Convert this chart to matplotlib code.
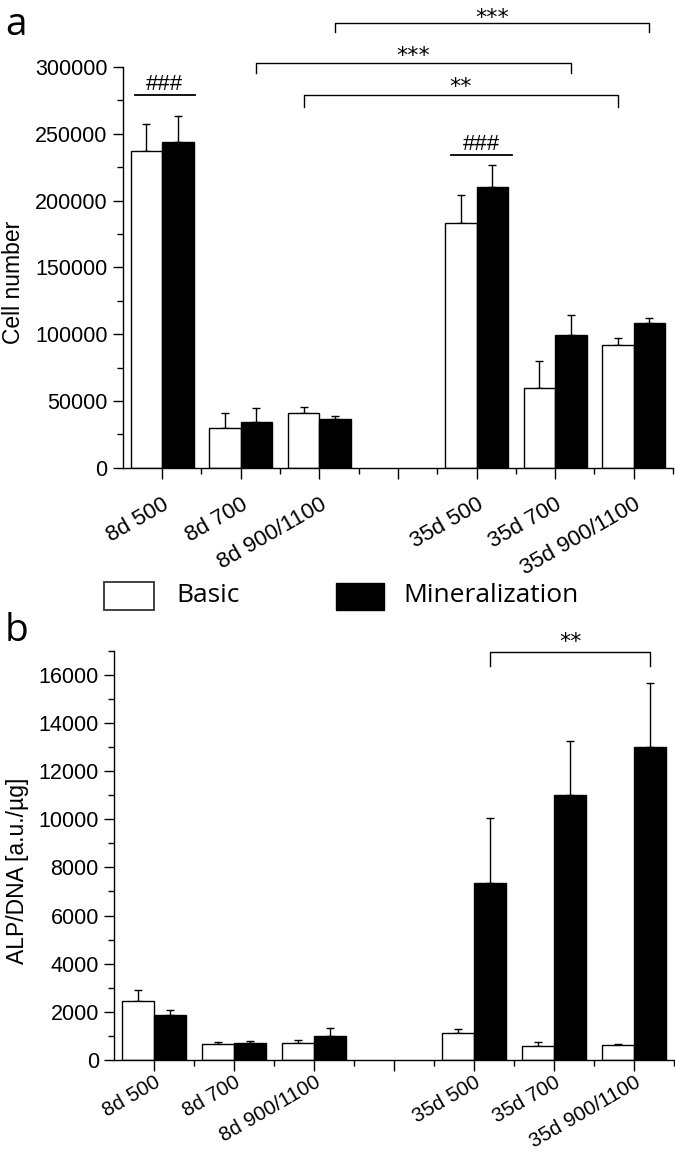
import matplotlib.pyplot as plt
import numpy as np
from matplotlib.patches import Rectangle

plt.rcParams['font.family'] = ['Liberation Sans', 'DejaVu Sans']

# categories (empty slot separates the 8d and 35d groups)
categories = ['8d 500', '8d 700', '8d 900/1100', '', '35d 500', '35d 700', '35d 900/1100']

# panel a: cell number
cell_basic = [237000, 30000, 41300, np.nan, 183000, 59800, 92000]
cell_basic_err = [20000, 11000, 4000, 0, 21000, 20000, 5500]
cell_mineral = [244000, 34000, 36500, np.nan, 210000, 99500, 108000]
cell_mineral_err = [19000, 11000, 2300, 0, 17000, 15000, 3800]

# panel b: ALP/DNA
alp_basic = [2450, 650, 700, np.nan, 1120, 580, 620]
alp_basic_err = [450, 100, 110, 0, 180, 150, 40]
alp_mineral = [1860, 720, 990, np.nan, 7350, 11000, 13000]
alp_mineral_err = [195, 80, 345, 0, 2700, 2270, 2650]

x = np.arange(len(categories))
w = 0.4

fig = plt.figure(figsize=(6.75, 11.55), dpi=100)
ax_a = fig.add_axes([0.182, 0.595, 0.815, 0.347])
ax_b = fig.add_axes([0.169, 0.0823, 0.83, 0.3543])


def draw_panel(ax, basic, basic_err, mineral, mineral_err, ylim, major, minor, pad, xsize):
    ax.bar(x - w / 2, basic, w, color='white', edgecolor='black', linewidth=1.0, zorder=2)
    ax.bar(x + w / 2, mineral, w, color='black', edgecolor='black', linewidth=1.0, zorder=2)
    zeros = np.zeros(len(x))
    ax.errorbar(x - w / 2, basic, yerr=[zeros, basic_err], fmt='none', ecolor='black',
                elinewidth=1.0, capsize=3.2, capthick=1.0, zorder=1)
    ax.errorbar(x + w / 2, mineral, yerr=[zeros, mineral_err], fmt='none', ecolor='black',
                elinewidth=1.0, capsize=3.2, capthick=1.0, zorder=1)
    ax.set_xlim(-0.5, 6.5)
    ax.set_ylim(*ylim)
    ax.set_xticks(x)
    ax.set_xticks(x + 0.5, minor=True)
    ax.set_xticklabels(categories, rotation=30, ha='right', rotation_mode='anchor', fontsize=xsize)
    ax.set_yticks(np.arange(0, ylim[1] + 1, major))
    ax.set_yticks(np.arange(0, ylim[1] + 1, minor), minor=True)
    ax.tick_params(axis='y', which='major', length=7, width=1, labelsize=15.5, pad=4)
    ax.tick_params(axis='y', which='minor', length=4, width=1)
    ax.tick_params(axis='x', which='major', length=8, width=1, pad=pad)
    ax.tick_params(axis='x', which='minor', length=4, width=1)
    for s in ['top', 'right']:
        ax.spines[s].set_visible(False)
    for s in ['left', 'bottom']:
        ax.spines[s].set_linewidth(1.0)


def bracket(ax, x0, x1, y, drop, text, off):
    ax.plot([x0, x0, x1, x1], [y - drop, y, y, y - drop], color='black', lw=1.0, clip_on=False)
    ax.annotate(text, xy=((x0 + x1) / 2, y), xytext=(0, off), textcoords='offset points',
                ha='center', va='bottom', fontsize=16, family=['DejaVu Sans'], annotation_clip=False)


def bar_line(ax, x0, x1, y, text):
    ax.plot([x0, x1], [y, y], color='black', lw=1.3, clip_on=False)
    ax.text((x0 + x1) / 2, y, text, ha='center', va='bottom', fontsize=16, clip_on=False)


draw_panel(ax_a, cell_basic, cell_basic_err, cell_mineral, cell_mineral_err,
           (0, 300000), 50000, 25000, 11, 16)
draw_panel(ax_b, alp_basic, alp_basic_err, alp_mineral, alp_mineral_err,
           (0, 17000), 2000, 1000, 1, 14.8)

# significance marks, panel a
bar_line(ax_a, -0.35, 0.42, 279300, '###')
bar_line(ax_a, 3.67, 4.45, 234300, '###')
bracket(ax_a, 2.2, 6.2, 332800, 6500, '***', -3.5)
bracket(ax_a, 1.2, 5.2, 303000, 7700, '***', -2.5)
bracket(ax_a, 1.8, 5.8, 279000, 9000, '**', -1.5)

# significance marks, panel b
bracket(ax_b, 4.2, 6.2, 16930, 560, '**', 0)

fig.text(13.5 / 675, 1 - 282 / 1155, 'Cell number', rotation=90, ha='center', va='center', fontsize=16.5)
fig.text(17.5 / 675, 1 - 871 / 1155, 'ALP/DNA [a.u./\u00b5g]', rotation=90, ha='center', va='center',
         fontsize=16.5)

# panel letters
fig.text(5 / 675, 1 - 35 / 1155, 'a', fontsize=28, family=['Open Sans', 'DejaVu Sans'])
fig.text(5 / 675, 1 - 641 / 1155, 'b', fontsize=28, family=['Open Sans', 'DejaVu Sans'])

# legend
fig.patches.append(Rectangle((104 / 675, 1 - 610 / 1155), 50 / 675, 28 / 1155, transform=fig.transFigure,
                             facecolor='white', edgecolor='#333333', linewidth=1.3))
fig.patches.append(Rectangle((336 / 675, 1 - 610 / 1155), 48 / 675, 27 / 1155, transform=fig.transFigure,
                             facecolor='black', edgecolor='black', linewidth=1.0))
fig.text(176 / 675, 1 - 596 / 1155, 'Basic', fontsize=19, va='center', family=['Open Sans', 'DejaVu Sans'])
fig.text(403 / 675, 1 - 596 / 1155, 'Mineralization', fontsize=19, va='center',
         family=['Open Sans', 'DejaVu Sans'])

fig.savefig('out.png', dpi=100)
